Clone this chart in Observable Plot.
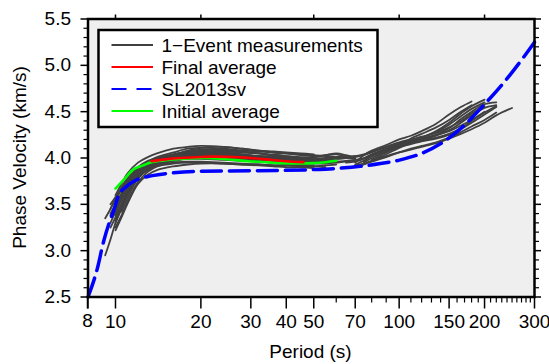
<!DOCTYPE html>
<html>
<head>
<meta charset="utf-8">
<script src="https://cdn.jsdelivr.net/npm/d3@7"></script>
<script src="https://cdn.jsdelivr.net/npm/@observablehq/plot@0.6"></script>
<style>
  html, body { margin: 0; padding: 0; background: #fff; }
  #chart { width: 549px; height: 364px; }
</style>
</head>
<body>
<div id="chart"></div>
<script>
// ---------------- data ----------------
const xMajorTicks = [8, 10, 20, 30, 40, 50, 70, 100, 150, 200, 300];
const xMinorTicks = [60, 80, 90, 110, 120, 130, 140, 160, 170, 180, 190, 210, 220, 230, 240, 250, 260, 270, 280, 290];
const xTopTicks = [10, 20, 50, 100, 200];
const yMajorTicks = [2.5, 3.0, 3.5, 4.0, 4.5, 5.0, 5.5];
const yMinorTicks = [2.6, 2.7, 2.8, 2.9, 3.1, 3.2, 3.3, 3.4, 3.6, 3.7, 3.8, 3.9, 4.1, 4.2, 4.3, 4.4, 4.6, 4.7, 4.8, 4.9, 5.1, 5.2, 5.3, 5.4];

// single-event measurements, short-period group
const shortPeriods = [9.2, 9.6, 10, 10.5, 11, 12, 13, 14, 16, 18, 20, 24, 28, 32, 36, 40, 45, 50, 55, 60, 65, 70];
const shortEvents = [
  [2.95,3.12,3.3,3.48,3.62,3.8,3.88,3.93,3.98,4.0,4.01,4.0,3.99,3.98,3.97,3.96,3.95,null,null,null,null,null],
  [3.35,3.45,3.55,3.68,3.78,3.9,3.96,3.99,4.03,4.05,4.06,4.05,4.04,4.02,4.01,4.0,3.99,3.98,3.98,3.99,null,null],
  [null,3.4,3.5,3.62,3.74,3.87,3.94,3.98,4.03,4.06,4.08,4.09,4.07,4.05,4.03,4.02,4.01,4.0,3.99,null,null,null],
  [null,null,3.3,3.45,3.6,3.8,3.9,3.95,4.0,4.02,4.02,4.01,4.0,3.99,3.98,3.97,3.96,3.96,null,null,null,null],
  [null,3.3,3.42,3.56,3.68,3.84,3.92,3.97,4.03,4.08,4.11,4.12,4.1,4.08,4.06,4.05,4.03,4.02,4.03,4.04,4.01,null],
  [null,null,3.6,3.72,3.83,3.95,4.01,4.05,4.1,4.12,4.13,4.12,4.1,4.08,4.07,4.06,4.05,4.04,null,null,null,null],
  [null,null,3.25,3.38,3.52,3.74,3.85,3.91,3.95,3.96,3.96,3.95,3.94,3.93,3.92,3.92,3.91,3.91,3.92,3.93,null,null],
  [null,3.5,3.58,3.68,3.76,3.88,3.93,3.96,3.99,4.0,4.0,3.99,3.98,3.96,3.95,3.94,3.93,3.92,null,null,null,null],
  [null,null,3.4,3.55,3.68,3.86,3.94,3.98,4.03,4.07,4.09,4.08,4.06,4.05,4.04,4.05,4.04,4.03,4.02,4.01,4.0,3.99],
  [null,null,null,3.5,3.64,3.82,3.9,3.95,3.99,4.01,4.01,4.0,3.98,3.97,3.95,3.93,3.92,3.91,3.9,null,null,null],
  [null,null,3.32,3.48,3.6,3.78,3.87,3.92,3.97,4.0,4.02,4.03,4.02,4.01,4.0,4.0,4.0,4.01,4.03,4.05,4.03,4.0],
  [null,3.45,3.56,3.66,3.75,3.88,3.95,3.99,4.04,4.07,4.07,4.06,4.04,4.02,4.0,3.98,3.97,3.96,3.97,3.98,null,null],
  [null,null,3.38,3.5,3.62,3.8,3.87,3.91,3.94,3.95,3.95,3.94,3.93,3.92,3.91,3.9,3.9,3.89,null,null,null,null],
  [null,null,3.48,3.6,3.72,3.88,3.96,4.01,4.06,4.1,4.11,4.1,4.08,4.07,4.06,4.05,4.04,4.03,null,null,null,null],
  [null,null,null,3.42,3.56,3.78,3.88,3.94,3.99,4.02,4.03,4.03,4.02,4.0,3.99,3.98,3.98,3.99,4.0,4.01,4.02,4.0],
  [null,3.38,3.48,3.6,3.7,3.85,3.92,3.96,4.0,4.02,4.03,4.02,4.01,4.0,3.99,3.98,3.97,3.97,3.96,3.96,3.97,null],
  [null,null,3.22,3.36,3.5,3.72,3.82,3.87,3.91,3.93,3.94,3.94,3.93,3.93,3.92,3.92,3.92,null,null,null,null,null],
  [null,null,3.55,3.66,3.76,3.9,3.97,4.0,4.04,4.06,4.06,4.05,4.03,4.01,3.99,3.98,3.97,3.97,3.98,3.99,4.0,null],
  [null,null,3.35,3.5,3.64,3.84,3.92,3.97,4.01,4.04,4.05,4.04,4.02,4.0,3.99,3.97,3.96,3.95,3.95,null,null,null],
  [null,null,null,3.58,3.7,3.86,3.93,3.97,4.01,4.03,4.04,4.04,4.03,4.02,4.02,4.01,4.0,3.99,3.99,4.0,4.01,4.02],
  [null,3.25,3.36,3.5,3.62,3.8,3.9,3.96,4.02,4.05,4.06,4.07,4.06,4.05,4.03,4.02,4.0,3.98,3.97,3.96,null,null],
  [null,null,3.45,3.57,3.68,3.83,3.9,3.94,3.97,3.99,3.99,3.98,3.97,3.96,3.96,3.95,3.95,3.94,3.94,3.95,3.96,3.98]
];

// single-event measurements, long-period group
const longPeriods = [60, 65, 70, 75, 80, 90, 100, 110, 120, 135, 150, 165, 180, 200, 220, 250];
const longEvents = [
  [null,null,3.95,4.03,4.08,4.14,4.2,4.24,4.29,4.37,4.47,4.55,4.61,null,null,null],
  [null,null,null,3.96,4.03,4.1,4.15,4.18,4.22,4.29,4.38,4.48,4.56,4.63,null,null],
  [null,3.97,3.98,4.0,4.04,4.1,4.14,4.17,4.2,4.25,4.32,4.42,4.5,4.58,4.6,null],
  [null,null,3.92,3.94,3.97,4.02,4.06,4.09,4.12,4.16,4.21,4.26,4.31,4.38,4.46,4.54],
  [3.99,4.0,4.01,4.03,4.06,4.12,4.17,4.2,4.23,4.27,4.33,4.4,4.48,4.56,null,null],
  [null,null,null,3.93,3.96,4.01,4.06,4.1,4.13,4.17,4.22,4.28,4.34,4.41,4.49,null],
  [null,null,3.91,3.93,3.97,4.04,4.11,4.16,4.19,4.24,4.3,4.38,4.46,4.54,4.57,null],
  [null,null,null,null,3.98,4.06,4.12,4.15,4.18,4.21,4.25,4.31,4.38,4.47,4.55,null],
  [null,3.95,3.96,3.99,4.03,4.09,4.15,4.19,4.21,4.25,4.29,4.35,4.41,4.5,null,null],
  [null,null,3.93,3.97,4.02,4.08,4.13,4.16,4.19,4.22,4.26,4.32,4.4,4.49,4.56,null],
  [4.0,4.01,4.02,4.04,4.07,4.12,4.16,4.19,4.22,4.28,4.36,4.45,4.53,4.6,null,null],
  [null,null,null,3.95,4.0,4.07,4.14,4.21,4.26,4.33,4.41,4.5,4.57,null,null,null]
];

// SL2013sv reference model
const slPeriods = [8, 8.6, 9.1, 9.5, 9.9, 10.2, 10.9, 11.8, 13.5, 15.4, 19, 25, 37, 50, 62, 73, 86, 101, 120, 141, 165, 200, 248, 300];
const slValues  = [2.5, 2.79, 3.11, 3.3, 3.45, 3.58, 3.69, 3.76, 3.81, 3.835, 3.855, 3.86, 3.865, 3.875, 3.89, 3.91, 3.94, 3.98, 4.05, 4.16, 4.32, 4.58, 4.91, 5.25];

// Final average
const finalPeriods = [13.4, 15, 17, 20, 22, 26, 30, 34, 38, 42, 46];
const finalValues  = [3.965, 3.985, 4.0, 4.01, 4.015, 4.01, 4.0, 3.985, 3.97, 3.96, 3.955];

// Initial average
const initPeriods = [10, 10.8, 11.6, 12.5, 13.4, 15, 17, 20, 24, 29.5, 34, 38, 44, 50, 55, 60];
const initValues  = [3.67, 3.78, 3.88, 3.92, 3.955, 3.975, 3.99, 4.0, 3.99, 3.965, 3.955, 3.945, 3.94, 3.945, 3.955, 3.97];

const legendLabels = ["1\u2212Event measurements", "Final average", "SL2013sv", "Initial average"];

// ---------------- build tables ----------------
const events = [];
shortEvents.forEach((vals, i) => vals.forEach((v, j) => events.push({p: shortPeriods[j], v, id: "s" + i})));
longEvents.forEach((vals, i) => vals.forEach((v, j) => events.push({p: longPeriods[j], v, id: "l" + i})));
const sl = slPeriods.map((p, i) => ({p, v: slValues[i]}));
const fin = finalPeriods.map((p, i) => ({p, v: finalValues[i]}));
const ini = initPeriods.map((p, i) => ({p, v: initValues[i]}));

const FONT = "Liberation Sans, Arial, Helvetica, sans-serif";
const FS = 19;

const chart = Plot.plot({
  width: 549,
  height: 364,
  marginLeft: 87.5,
  marginRight: 15,
  marginTop: 18.5,
  marginBottom: 67.5,
  style: {fontFamily: FONT, fontSize: FS + "px", background: "#fff", color: "#000"},
  x: {type: "log", domain: [8, 300], label: null},
  y: {domain: [2.5, 5.5], label: null},
  marks: [
    Plot.frame({fill: "#efefef", stroke: null}),
    Plot.line(events, {x: "p", y: "v", z: "id", stroke: "#404040", strokeWidth: 1.8, curve: "catmull-rom"}),
    Plot.line(sl, {x: "p", y: "v", stroke: "#0000ff", strokeWidth: 3.5, strokeDasharray: "20,8", curve: "monotone-x"}),
    Plot.line(ini, {x: "p", y: "v", stroke: "#00ff00", strokeWidth: 2.6, curve: "catmull-rom"}),
    Plot.line(fin, {x: "p", y: "v", stroke: "#ff0000", strokeWidth: 2.6, curve: "catmull-rom"}),
    Plot.frame({stroke: "#000", strokeWidth: 2.5}),
    // bottom axis
    Plot.axisX({anchor: "bottom", ticks: xMajorTicks, tickSize: 12, tickPadding: 5, strokeWidth: 1.5,
      tickFormat: d => String(d), fontSize: FS, label: null}),
    Plot.axisX({anchor: "bottom", ticks: xMinorTicks, tickSize: 6, strokeWidth: 1.2,
      tickFormat: () => "", label: null}),
    // top axis
    Plot.axisX({anchor: "top", ticks: xTopTicks, tickSize: 5, strokeWidth: 1.5,
      tickFormat: () => "", label: null}),
    // left axis
    Plot.axisY({anchor: "left", ticks: yMajorTicks, tickSize: 7, tickPadding: 10, strokeWidth: 1.5,
      tickFormat: d3.format(".1f"), fontSize: FS, label: null}),
    Plot.axisY({anchor: "left", ticks: yMinorTicks, tickSize: 4, strokeWidth: 1.2,
      tickFormat: () => "", label: null}),
    // right axis
    Plot.axisY({anchor: "right", ticks: yMajorTicks, tickSize: 6, strokeWidth: 1.5,
      tickFormat: () => "", label: null}),
    Plot.axisY({anchor: "right", ticks: yMinorTicks, tickSize: 4, strokeWidth: 1.2,
      tickFormat: () => "", label: null})
  ]
});

document.getElementById("chart").appendChild(chart);

// ---------------- first x tick (domain edge), axis titles, legend ----------------
const svg = d3.select(chart);
const xs = chart.scale("x");
const ys = chart.scale("y");
const yBottom = ys.apply(ys.domain[0]);
const x8 = xs.apply(xMajorTicks[0]);
svg.append("line")
  .attr("x1", x8).attr("x2", x8).attr("y1", yBottom).attr("y2", yBottom + 12)
  .attr("stroke", "#000").attr("stroke-width", 1.5);
svg.append("text")
  .attr("x", x8).attr("y", yBottom + 12 + 5).attr("dy", "0.71em")
  .attr("text-anchor", "middle")
  .attr("font-family", FONT).attr("font-size", FS)
  .text(String(xMajorTicks[0]));

svg.append("text")
  .attr("x", 310.5).attr("y", 358)
  .attr("text-anchor", "middle")
  .attr("font-family", FONT).attr("font-size", FS)
  .text("Period (s)");
svg.append("text")
  .attr("transform", "translate(26,157.5) rotate(-90)")
  .attr("text-anchor", "middle")
  .attr("font-family", FONT).attr("font-size", FS)
  .text("Phase Velocity (km/s)");

const lg = svg.append("g");
lg.append("rect")
  .attr("x", 98.5).attr("y", 30).attr("width", 279).attr("height", 97)
  .attr("fill", "#fff").attr("stroke", "#000").attr("stroke-width", 2.5);
const legendStyles = [
  {stroke: "#404040", dash: null, w: 2},
  {stroke: "#ff0000", dash: null, w: 2},
  {stroke: "#0000ff", dash: "15,10", w: 2},
  {stroke: "#00ff00", dash: null, w: 2}
];
legendLabels.forEach((t, i) => {
  const cy = 45 + i * 22;
  const s = legendStyles[i];
  lg.append("line")
    .attr("x1", 111.5).attr("x2", 153).attr("y1", cy).attr("y2", cy)
    .attr("stroke", s.stroke).attr("stroke-width", s.w)
    .attr("stroke-dasharray", s.dash);
  lg.append("text")
    .attr("x", 161.5).attr("y", cy + 7)
    .attr("text-anchor", "start")
    .attr("font-family", FONT).attr("font-size", FS)
    .text(t);
});
</script>
</body>
</html>
